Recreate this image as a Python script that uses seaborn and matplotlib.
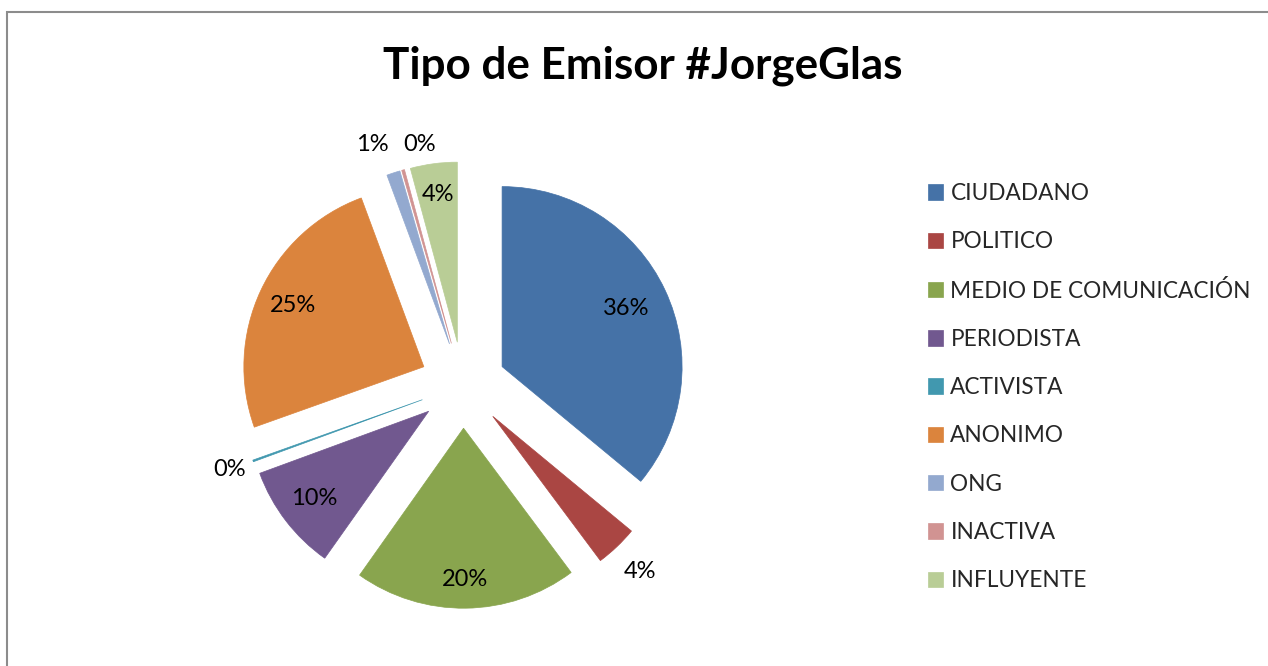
import numpy as np
import matplotlib
matplotlib.use("Agg")
import matplotlib.pyplot as plt
from matplotlib.patches import Rectangle
import seaborn as sns

# ---- data ----
categories = ["CIUDADANO", "POLITICO", "MEDIO DE COMUNICACIÓN", "PERIODISTA",
              "ACTIVISTA", "ANONIMO", "ONG", "INACTIVA", "INFLUYENTE"]
shares = [36.0, 3.8, 20.0, 9.6, 0.15, 24.8, 1.2, 0.25, 4.2]
title = "Tipo de Emisor #JorgeGlas"

colors = ["#4572A7", "#AA4643", "#89A54E", "#71588F", "#4198AF",
          "#DB843D", "#93A9CF", "#D19392", "#B9CD96"]

sns.set_theme(style="white")
plt.rcParams["font.family"] = ["Lato", "DejaVu Sans"]

W, H = 1268, 666
fig = plt.figure(figsize=(W / 100, H / 100), dpi=100)
fig.patch.set_facecolor("white")

# pie axes: centre at (463, 385) px, radius 180 px
R = 180.0
cx, cy = 463.0, 385.0
half = 1.5 * R
ax = fig.add_axes([(cx - half) / W, (H - cy - half) / H, 2 * half / W, 2 * half / H])

pal = sns.color_palette(colors)
wedges, _ = ax.pie(shares, explode=[0.24] * len(shares), startangle=90,
                   counterclock=False, colors=pal, radius=1.0)
for w, c in zip(wedges, pal):
    w.set_edgecolor(c)
    w.set_linewidth(0.5)
ax.set_xlim(-1.5, 1.5)
ax.set_ylim(-1.5, 1.5)
ax.set_aspect("equal")
ax.axis("off")

total = sum(shares)
# label layout: (radial factor, angular nudge in degrees)
layout = {
    "CIUDADANO": (0.76, 0), "POLITICO": (1.19, 0), "MEDIO DE COMUNICACIÓN": (0.84, 0),
    "PERIODISTA": (0.80, 0), "ACTIVISTA": (1.14, 0), "ANONIMO": (0.80, 0),
    "ONG": (1.19, 3), "INACTIVA": (1.12, -6.6), "INFLUYENTE": (0.83, 0),
}
for w, cat, v in zip(wedges, categories, shares):
    r, nudge = layout[cat]
    th = np.deg2rad((w.theta1 + w.theta2) / 2 + nudge)
    x0, y0 = w.center
    ax.text(x0 + r * np.cos(th), y0 + r * np.sin(th), f"{v / total * 100:.0f}%",
            ha="center", va="center", fontsize=17, color="black")

fig.text(643 / W, 1 - 79 / H, title, ha="center", va="baseline",
         fontsize=31.7, fontweight="bold", color="black")

leg = fig.legend(wedges, categories, loc="upper left",
                 bbox_to_anchor=(928 / W, 1 - 183 / H), frameon=False,
                 fontsize=16.3, handlelength=0.67, handleheight=0.67,
                 handletextpad=0.32, labelspacing=1.205, borderpad=0,
                 borderaxespad=0)

fig.patches.append(Rectangle((7 / W, -0.05), 1.05, 1.05 - 12 / H,
                             transform=fig.transFigure, fill=False,
                             edgecolor="#8c8c8c", linewidth=1.5))

fig.savefig("out.png", dpi=100, facecolor="white")
